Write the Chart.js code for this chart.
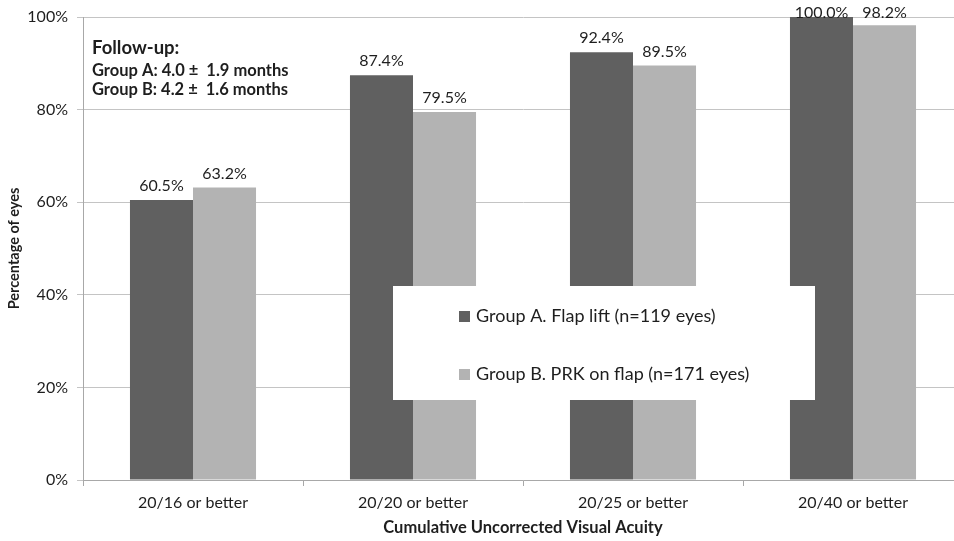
<!DOCTYPE html>
<html>
<head>
<meta charset="utf-8">
<script src="https://cdn.jsdelivr.net/npm/chart.js@4"></script>
<style>
  html, body { margin: 0; padding: 0; background: #fff; overflow: hidden; }
  #wrap { width: 970px; height: 541px; }
</style>
</head>
<body>
<div id="wrap"><canvas id="graficoAgudeza" width="970" height="541"></canvas></div>
<script>
const categorias = ['20/16 or better', '20/20 or better', '20/25 or better', '20/40 or better'];
const grupoA = [60.5, 87.4, 92.4, 100.0];
const grupoB = [63.2, 79.5, 89.5, 98.2];
const etiquetaA = 'Group A. Flap lift (n=119 eyes)';
const etiquetaB = 'Group B. PRK on flap (n=171 eyes)';
const notas = ['Follow-up:', 'Group A: 4.0 \u00b1  1.9 months', 'Group B: 4.2 \u00b1  1.6 months'];

const fuente = 'Lato, "Open Sans", sans-serif';
const colorTexto = '#1e1e1e';

// porcentajes encima de cada barra (sin salirse por arriba)
const etiquetasValor = {
    id: 'etiquetasValor',
    afterDatasetsDraw(chart) {
        const ctx = chart.ctx;
        ctx.save();
        ctx.font = '16px ' + fuente;
        ctx.fillStyle = colorTexto;
        ctx.textAlign = 'center';
        ctx.textBaseline = 'middle';
        chart.data.datasets.forEach((ds, i) => {
            chart.getDatasetMeta(i).data.forEach((bar, j) => {
                const y = Math.max(bar.y - 14, 13);
                ctx.fillText(ds.data[j].toFixed(1) + '%', bar.x, y);
            });
        });
        ctx.restore();
    }
};

// leyenda en caja blanca y notas de seguimiento
const leyendaYNotas = {
    id: 'leyendaYNotas',
    afterDraw(chart) {
        const ctx = chart.ctx;
        const area = chart.chartArea;
        ctx.save();
        const x0 = 393, y0 = 286, w = 422, h = 114;
        ctx.fillStyle = '#ffffff';
        ctx.fillRect(x0, y0, w, h);
        ctx.font = '18px ' + fuente;
        ctx.textBaseline = 'middle';
        chart.data.datasets.forEach((ds, i) => {
            const y = y0 + 30 + i * 58;
            ctx.fillStyle = ds.backgroundColor;
            ctx.fillRect(x0 + 66, y - 5, 11, 11);
            ctx.fillStyle = colorTexto;
            ctx.fillText(ds.label, x0 + 83, y);
        });

        ctx.fillStyle = colorTexto;
        ctx.textBaseline = 'middle';
        ctx.font = 'bold 18.5px ' + fuente;
        ctx.fillText(notas[0], area.left + 9, 48);
        ctx.font = 'bold 16.5px ' + fuente;
        ctx.fillText(notas[1], area.left + 9, 71);
        ctx.fillText(notas[2], area.left + 9, 90);
        ctx.restore();
    }
};

const ctx = document.getElementById('graficoAgudeza').getContext('2d');
new Chart(ctx, {
    type: 'bar',
    data: {
        labels: categorias,
        datasets: [
            { label: etiquetaA, data: grupoA, backgroundColor: '#606060' },
            { label: etiquetaB, data: grupoB, backgroundColor: '#b3b3b3' }
        ]
    },
    options: {
        responsive: false,
        animation: false,
        events: [],
        layout: { padding: { top: 9, right: 7, left: 0, bottom: 0 } },
        datasets: { bar: { categoryPercentage: 0.573, barPercentage: 1.0 } },
        plugins: {
            legend: { display: false },
            tooltip: { enabled: false }
        },
        scales: {
            x: {
                afterFit(scale) { scale.height = 61; },
                grid: {
                    offset: true,
                    drawOnChartArea: false,
                    drawTicks: true,
                    tickLength: 6,
                    color: '#a8a8a8'
                },
                border: { color: '#a8a8a8' },
                ticks: { color: colorTexto, font: { family: fuente, size: 16 }, padding: 7 },
                title: {
                    display: true,
                    text: 'Cumulative Uncorrected Visual Acuity',
                    color: colorTexto,
                    font: { family: fuente, size: 16.5, weight: 'bold' },
                    padding: { top: 2, bottom: 3 }
                }
            },
            y: {
                min: 0,
                max: 100,
                afterFit(scale) { scale.width = 83; },
                grid: { color: '#c4c4c4', tickLength: 6 },
                border: { color: '#a8a8a8' },
                ticks: {
                    stepSize: 20,
                    color: colorTexto,
                    font: { family: fuente, size: 16, lineHeight: 1 },
                    padding: 9,
                    callback: v => v + '%'
                },
                title: {
                    display: true,
                    text: 'Percentage of eyes',
                    color: colorTexto,
                    font: { family: fuente, size: 14.5, weight: 'bold' },
                    padding: { top: 6, bottom: 4 }
                }
            }
        }
    },
    plugins: [etiquetasValor, leyendaYNotas]
});
</script>
</body>
</html>
